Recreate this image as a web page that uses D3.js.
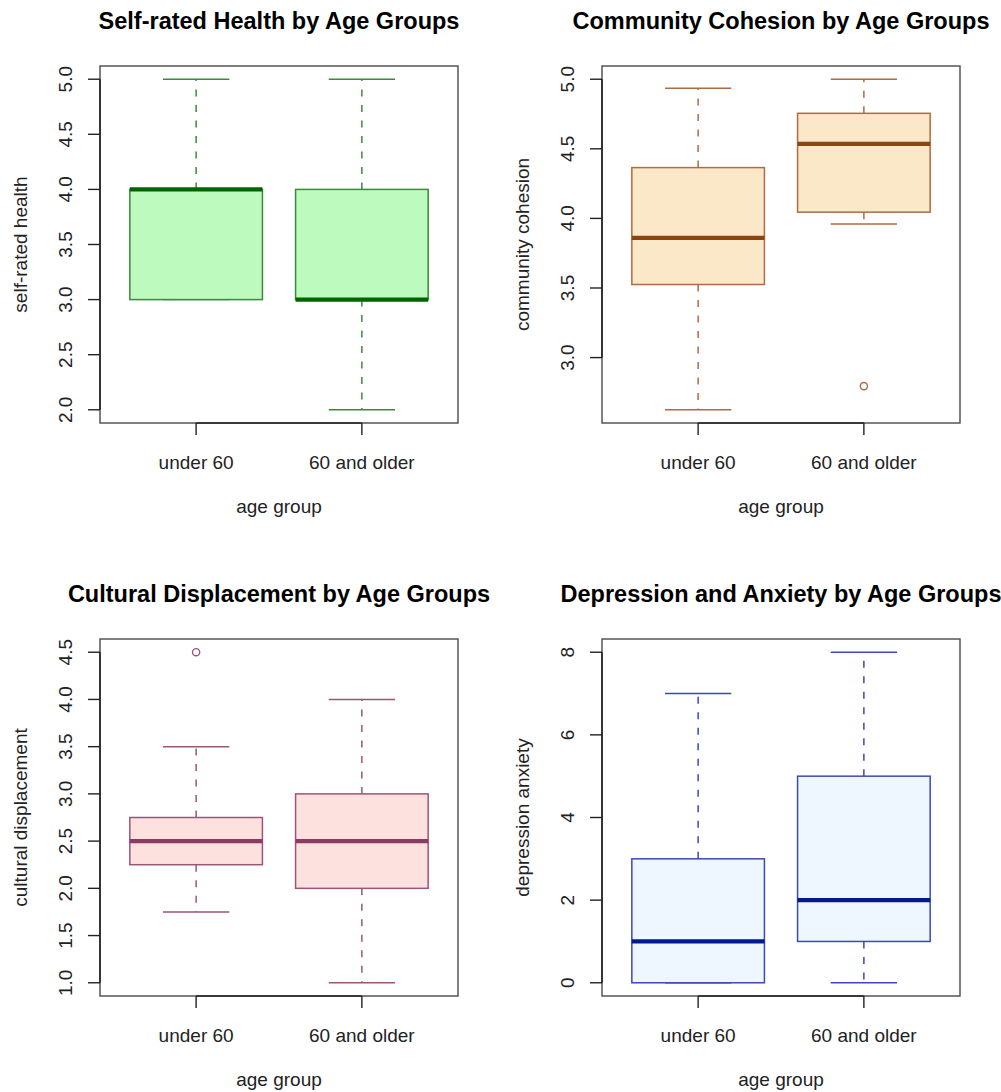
<!DOCTYPE html>
<html>
<head>
<meta charset="utf-8">
<script src="https://cdn.jsdelivr.net/npm/d3@7"></script>
<style>
  body { margin: 0; background: #fff; }
  text { font-family: "Liberation Sans", Arial, sans-serif; fill: #222; }
</style>
</head>
<body>
<div id="chart"></div>
<script>
const groups = ["under 60", "60 and older"];

// box stats per group: lower whisker, Q1, median, Q3, upper whisker
const healthStats = [[3, 3, 4, 4, 5], [2, 3, 3, 4, 5]];
const healthOut = [[], []];
const healthTicks = [2.0, 2.5, 3.0, 3.5, 4.0, 4.5, 5.0];

const cohesionStats = [[2.625, 3.525, 3.86, 4.365, 4.935], [3.96, 4.045, 4.535, 4.755, 5.0]];
const cohesionOut = [[], [2.795]];
const cohesionTicks = [3.0, 3.5, 4.0, 4.5, 5.0];

const displaceStats = [[1.75, 2.25, 2.5, 2.75, 3.5], [1.0, 2.0, 2.5, 3.0, 4.0]];
const displaceOut = [[4.5], []];
const displaceTicks = [1.0, 1.5, 2.0, 2.5, 3.0, 3.5, 4.0, 4.5];

const depressStats = [[0, 0, 1, 3, 7], [0, 1, 2, 5, 8]];
const depressOut = [[], []];
const depressTicks = [0, 2, 4, 6, 8];

const width = 1001;
const height = 1092;

const panels = [
  { title: "Self-rated Health by Age Groups", ylab: "self-rated health",
    stats: healthStats, out: healthOut, ticks: healthTicks, fmt: d3.format(".1f"),
    x0: 100, y0: 66, fill: "#bdfabd", line: "#3a8a3a", med: "#006400" },
  { title: "Community Cohesion by Age Groups", ylab: "community cohesion",
    stats: cohesionStats, out: cohesionOut, ticks: cohesionTicks, fmt: d3.format(".1f"),
    x0: 602, y0: 66, fill: "#fae8c8", line: "#b06a45", med: "#8b4513" },
  { title: "Cultural Displacement by Age Groups", ylab: "cultural displacement",
    stats: displaceStats, out: displaceOut, ticks: displaceTicks, fmt: d3.format(".1f"),
    x0: 100, y0: 639, fill: "#fde1de", line: "#9c5577", med: "#8b3a62" },
  { title: "Depression and Anxiety by Age Groups", ylab: "depression anxiety",
    stats: depressStats, out: depressOut, ticks: depressTicks, fmt: d3.format("d"),
    x0: 602, y0: 639, fill: "#eef6ff", line: "#3a48bb", med: "#001a8e" }
];

const pw = 358, ph = 357;

const svg = d3.select("#chart")
  .append("svg")
  .attr("width", width)
  .attr("height", height);

svg.append("rect")
  .attr("width", width)
  .attr("height", height)
  .attr("fill", "#fff");

panels.forEach(drawPanel);

function drawPanel(p) {
  const g = svg.append("g")
    .attr("transform", `translate(${p.x0},${p.y0})`);

  // R style ranges: 4% padding on both sides
  const x = d3.scaleLinear().domain([0.42, 2.58]).range([0, pw]);
  const all = p.stats.flat().concat(p.out.flat());
  const lo = d3.min(all), hi = d3.max(all);
  const pad = (hi - lo) * 0.04;
  const y = d3.scaleLinear().domain([lo - pad, hi + pad]).range([ph, 0]);

  const boxes = g.selectAll("g.box")
    .data(p.stats)
    .enter().append("g")
    .attr("class", "box");

  const cx = (d, i) => x(i + 1);

  // whiskers
  boxes.append("line")
    .attr("x1", cx).attr("x2", cx)
    .attr("y1", d => y(d[3])).attr("y2", d => y(d[4]))
    .attr("stroke", p.line).attr("stroke-width", 1.5)
    .attr("stroke-dasharray", "7,8.5");

  boxes.append("line")
    .attr("x1", cx).attr("x2", cx)
    .attr("y1", d => y(d[1])).attr("y2", d => y(d[0]))
    .attr("stroke", p.line).attr("stroke-width", 1.5)
    .attr("stroke-dasharray", "7,8.5");

  // staples
  [0, 4].forEach(k => {
    boxes.append("line")
      .attr("x1", (d, i) => x(i + 1 - 0.2)).attr("x2", (d, i) => x(i + 1 + 0.2))
      .attr("y1", d => y(d[k])).attr("y2", d => y(d[k]))
      .attr("stroke", p.line).attr("stroke-width", 1.5);
  });

  boxes.append("rect")
    .attr("x", (d, i) => x(i + 1 - 0.4))
    .attr("width", x(1.4) - x(0.6))
    .attr("y", d => y(d[3]))
    .attr("height", d => y(d[1]) - y(d[3]))
    .attr("fill", p.fill)
    .attr("stroke", p.line)
    .attr("stroke-width", 1.5);

  boxes.append("line")
    .attr("x1", (d, i) => x(i + 1 - 0.4)).attr("x2", (d, i) => x(i + 1 + 0.4))
    .attr("y1", d => y(d[2])).attr("y2", d => y(d[2]))
    .attr("stroke", p.med).attr("stroke-width", 4.2);

  // outliers
  p.out.forEach((vals, i) => {
    g.selectAll(null)
      .data(vals)
      .enter().append("circle")
      .attr("cx", x(i + 1))
      .attr("cy", d => y(d))
      .attr("r", 3.6)
      .attr("fill", "none")
      .attr("stroke", p.line)
      .attr("stroke-width", 1.4);
  });

  // frame
  g.append("rect")
    .attr("width", pw).attr("height", ph)
    .attr("fill", "none")
    .attr("stroke", "#555")
    .attr("stroke-width", 1.5);

  // y axis
  const yt = p.ticks;
  g.append("line")
    .attr("x1", 0).attr("x2", 0)
    .attr("y1", y(yt[0])).attr("y2", y(yt[yt.length - 1]))
    .attr("stroke", "#222").attr("stroke-width", 1.6);

  g.selectAll("line.ytick")
    .data(yt)
    .enter().append("line")
    .attr("class", "ytick")
    .attr("x1", 0).attr("x2", -12)
    .attr("y1", d => y(d)).attr("y2", d => y(d))
    .attr("stroke", "#222").attr("stroke-width", 1.4);

  g.selectAll("text.ylab")
    .data(yt)
    .enter().append("text")
    .attr("class", "ylab")
    .attr("transform", d => `translate(-28,${y(d)}) rotate(-90)`)
    .attr("text-anchor", "middle")
    .style("font-size", "19px")
    .text(d => p.fmt(d));

  // x axis
  g.append("line")
    .attr("x1", x(1)).attr("x2", x(2))
    .attr("y1", ph).attr("y2", ph)
    .attr("stroke", "#222").attr("stroke-width", 1.6);

  g.selectAll("line.xtick")
    .data(groups)
    .enter().append("line")
    .attr("class", "xtick")
    .attr("x1", (d, i) => x(i + 1)).attr("x2", (d, i) => x(i + 1))
    .attr("y1", ph).attr("y2", ph + 12)
    .attr("stroke", "#222").attr("stroke-width", 1.4);

  g.selectAll("text.xlab")
    .data(groups)
    .enter().append("text")
    .attr("class", "xlab")
    .attr("x", (d, i) => x(i + 1))
    .attr("y", ph + 46)
    .attr("text-anchor", "middle")
    .style("font-size", "19px")
    .text(d => d);

  // titles
  g.append("text")
    .attr("x", pw / 2)
    .attr("y", -37)
    .attr("text-anchor", "middle")
    .style("font-size", "23.5px")
    .style("font-weight", "bold")
    .style("fill", "#000")
    .text(p.title);

  g.append("text")
    .attr("x", pw / 2)
    .attr("y", ph + 90)
    .attr("text-anchor", "middle")
    .style("font-size", "19px")
    .text("age group");

  g.append("text")
    .attr("transform", `translate(-73,${ph / 2}) rotate(-90)`)
    .attr("text-anchor", "middle")
    .style("font-size", "19px")
    .text(p.ylab);
}
</script>
</body>
</html>
